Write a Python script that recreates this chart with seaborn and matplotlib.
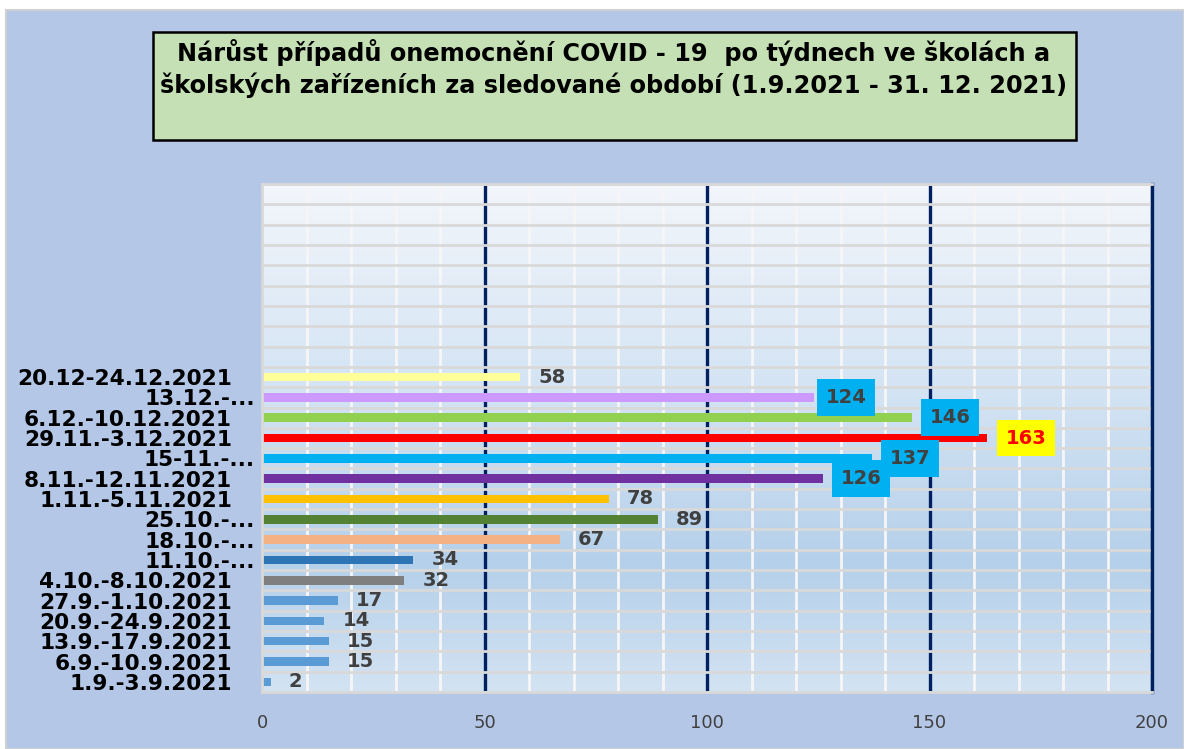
import numpy as np
import pandas as pd
import matplotlib
matplotlib.use("Agg")
import matplotlib.pyplot as plt
import seaborn as sns
from matplotlib.patches import Rectangle
from matplotlib.colors import LinearSegmentedColormap
import matplotlib.transforms as mtransforms

# ---- data (top to bottom as displayed) ----
weeks = ["20.12-24.12.2021", "13.12.-...", "6.12.-10.12.2021", "29.11.-3.12.2021",
         "15-11.-...", "8.11.-12.11.2021", "1.11.-5.11.2021", "25.10.-...",
         "18.10.-...", "11.10.-...", "4.10.-8.10.2021", "27.9.-1.10.2021",
         "20.9.-24.9.2021", "13.9.-17.9.2021", "6.9.-10.9.2021", "1.9.-3.9.2021"]
cases = [58, 124, 146, 163, 137, 126, 78, 89, 67, 34, 32, 17, 14, 15, 15, 2]
bar_colors = ["#ffff99", "#cc99ff", "#92d050", "#ff0000", "#00b0f0", "#7030a0",
              "#ffc000", "#548235", "#f4b183", "#2e75b6", "#7f7f7f", "#5b9bd5",
              "#5b9bd5", "#5b9bd5", "#5b9bd5", "#5b9bd5"]
x_ticks = [0, 50, 100, 150, 200]
title = ("Nárůst případů onemocnění COVID - 19  po týdnech ve školách a\n"
         "školských zařízeních za sledované období (1.9.2021 - 31. 12. 2021)")
empty_slots = 9

df = pd.DataFrame({"week": weeks, "cases": cases})

sns.set_theme(style="white")
plt.rcParams["font.family"] = ["DejaVu Sans"]

fig = plt.figure(figsize=(11.84, 7.49), dpi=100, facecolor="white")
# outer light-blue chart area
fig.patches.append(Rectangle((6 / 1184, 0), 1 - 6 / 1184, 1 - 10 / 749,
                             transform=fig.transFigure, facecolor="#b4c7e7",
                             edgecolor="#d0d0d0", linewidth=1.5, zorder=-5))

ax = fig.add_axes([262 / 1184, 1 - 692 / 749, (1152 - 262) / 1184, (692 - 184) / 749])
ax.patch.set_alpha(0)

# gradient plot-area background
cmap = LinearSegmentedColormap.from_list(
    "bg", [(0.0, "#d3e3f3"), (0.25, "#b5d0ea"), (0.6, "#d4e4f4"), (1.0, "#f3f6fb")])
grad = np.linspace(0, 1, 256).reshape(-1, 1)
ax.imshow(grad, extent=(0, 1, 0, 1), transform=ax.transAxes, aspect="auto",
          cmap=cmap, origin="lower", zorder=0)

sns.barplot(data=df, x="cases", y="week", hue="week", palette=bar_colors,
            legend=False, orient="h", width=0.42, ax=ax, zorder=3, saturation=1,
            linewidth=0, edgecolor="none")

n = len(weeks)
ax.set_xlim(0, 200)
ax.set_ylim(n - 0.5, -0.5 - empty_slots)

# vertical grid
ax.set_xticks(x_ticks)
ax.vlines([v for v in np.arange(10, 200, 10) if v % 50 != 0], n - 0.5, -0.5 - empty_slots,
          colors="#f6f6f6", linewidth=2, zorder=1)
ax.vlines([v for v in x_ticks if v > 0], n - 0.5, -0.5 - empty_slots,
          colors="#002060", linewidth=2.4, zorder=1.2)
# horizontal grid at slot boundaries
ax.hlines(np.arange(-0.5 - empty_slots, n - 0.4, 1), 0, 200,
          colors="#d9d9d9", linewidth=2, zorder=1.5)

for side in ["left", "bottom", "top"]:
    ax.spines[side].set_color("#d9d9d9")
    ax.spines[side].set_linewidth(2)
    ax.spines[side].set_zorder(5)
ax.spines["right"].set_color("#002060")
ax.spines["right"].set_linewidth(2.4)

ax.set_xlabel("")
ax.set_ylabel("")
ax.tick_params(axis="both", length=0)
ax.tick_params(axis="y", pad=5)
ax.tick_params(axis="x", pad=16)
ax.set_xticklabels([str(v) for v in x_ticks], fontsize=13, color="#404040")
ax.set_yticks(range(n))
ax.set_yticklabels(weeks, fontsize=15.6, fontweight="bold", color="black")
shift = mtransforms.ScaledTranslation(-23 / 100, 0, fig.dpi_scale_trans)
for lbl in ax.get_yticklabels():
    if not lbl.get_text().endswith("..."):
        lbl.set_transform(lbl.get_transform() + shift)

# value labels
boxed = {124, 146, 137, 126}
for i, (w, v) in enumerate(zip(weeks, cases)):
    if v == 163:
        ax.annotate(str(v), (v, i), xytext=(13.2, 0), textcoords="offset points",
                    va="center", ha="left", fontsize=14, fontweight="bold", color="#ff0000",
                    bbox=dict(boxstyle="square,pad=0.45", facecolor="#ffff00", edgecolor="none"),
                    zorder=6)
    elif v in boxed:
        off = 8.5 if v == 124 else 12.8
        ax.annotate(str(v), (v, i), xytext=(off, 0), textcoords="offset points",
                    va="center", ha="left", fontsize=14, fontweight="bold", color="#404040",
                    bbox=dict(boxstyle="square,pad=0.45", facecolor="#00b0f0", edgecolor="none"),
                    zorder=6)
    else:
        ax.annotate(str(v), (v, i), xytext=(13, 0), textcoords="offset points",
                    va="center", ha="left", fontsize=14, fontweight="bold", color="#404040",
                    zorder=6)

# title box
fig.patches.append(Rectangle((153 / 1184, 1 - 140 / 749), (1076 - 153) / 1184, 108 / 749,
                             transform=fig.transFigure, facecolor="#c5e0b4",
                             edgecolor="black", linewidth=1.8, zorder=1))
fig.text(614 / 1184, 1 - 68.5 / 749, title, ha="center", va="center", fontsize=17.3,
         fontweight="bold", color="black", linespacing=1.3, zorder=2)

fig.savefig("out.png", dpi=100, facecolor="white")
